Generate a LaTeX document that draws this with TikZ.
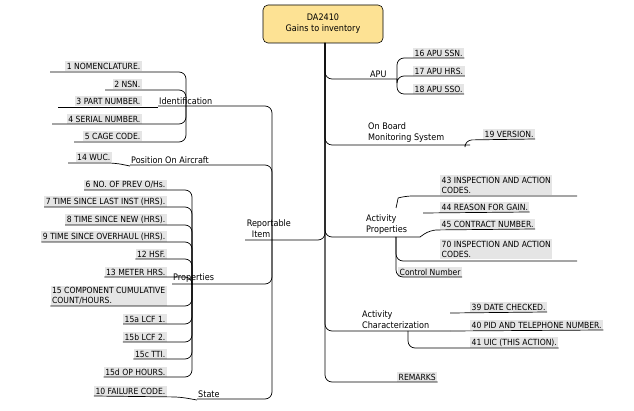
\documentclass[tikz,border=0pt]{standalone}
\usepackage{fontspec}
\setmainfont{DejaVu Sans Condensed}
\usetikzlibrary{positioning}
\tikzset{
  leaf/.style={fill=gray!20, inner sep=1.5pt, font=\fontsize{8.5}{10}\selectfont, align=left},
  hub/.style={inner sep=1pt, font=\fontsize{9}{11}\selectfont, align=left},
  conn/.style={draw, line width=0.7pt, rounded corners=7pt}
}
\begin{document}
\begin{tikzpicture}[x=1pt,y=-1pt]
      \useasboundingbox (0,0) rectangle (634,411);
      % root
      \node [draw, fill=yellow!50!orange!40, rounded corners=5pt, minimum width=120, minimum height=38,
        font=\fontsize{9}{11}\selectfont, align=center, line width=0.6pt] (root) at (323,24)
        {DA2410\\Gains to inventory};
      \coordinate (trunk) at (325,43);

      % right hubs
      \node [hub, anchor=south west] (apu) at (369,79) {APU};
      \node [hub, anchor=south west] (obm) at (367,144) {On Board\\Monitoring System};
      \node [hub, anchor=south west] (actp) at (365,236) {Activity\\Properties};
      \node [hub, anchor=south west] (actc) at (361,330) {Activity\\Characterization};
      \node [leaf, anchor=south west] (rem) at (397,382) {REMARKS};
      \draw [conn] (397,79) -| (trunk);
      \draw [conn] (470,145) -| (trunk);
      \draw [conn] (420,237) -| (trunk);
      \draw [conn] (450,331) -| (trunk);
      \draw [conn] (rem.south east) -| (trunk);

      % APU
      \node [leaf, anchor=south west] (a16) at (413,58) {16 APU SSN.};
      \node [leaf, anchor=south west] (a17) at (413,76) {17 APU HRS.};
      \node [leaf, anchor=south west] (a18) at (413,94) {18 APU SSO.};
      \foreach \n in {a16,a17,a18}
        \draw [conn] (\n.south east) -| (397,79);

      % on board
      \node [leaf, anchor=south west] (v19) at (483,139) {19 VERSION.};
      \draw [conn] (v19.south east) -- (465,140) -- (465,145);

      % activity properties
      \node [leaf, anchor=south west] (p43) at (440,195) {43 INSPECTION AND ACTION\\CODES.};
      \node [leaf, anchor=south west] (p44) at (440,212) {44 REASON FOR GAIN.};
      \node [leaf, anchor=south west] (p45) at (440,229) {45 CONTRACT NUMBER.};
      \node [leaf, anchor=south west] (p70) at (440,259) {70 INSPECTION AND ACTION\\CODES.};
      \node [leaf, anchor=south west] (pcn) at (398,277) {Control Number};
      \draw [conn] (577,196) -- (405,196) .. controls (398,198) and (397,204) .. (396,208);
      \draw [conn] (p44.south east) -- (423,213);
      \draw [conn] (p45.south east) -- (430,230) -- (420,237);
      \draw [conn] (577,261) -| (396,237);
      \draw [conn] (pcn.south east) -| (396,237);

      % activity characterization
      \node [leaf, anchor=south west] (c39) at (470,312) {39 DATE CHECKED.};
      \node [leaf, anchor=south west] (c40) at (470,330) {40 PID AND TELEPHONE NUMBER.};
      \node [leaf, anchor=south west] (c41) at (470,348) {41 UIC (THIS ACTION).};
      \draw [conn] (c39.south east) -- (450,313);
      \draw [conn] (c40.south east) -- (450,331);
      \draw [conn] (c41.south east) -| (408,331);

      % reportable item
      \node [hub, anchor=south west] (rep) at (243,239) {\ Reportable\\ \ \ \ Item};
      \draw [conn] (245,240) -| (trunk);
      \coordinate (rhub) at (272,240);

      \node [hub, anchor=south west] (ident) at (158,106) {Identification};
      \node [hub, anchor=south west] (pos) at (130,165) {Position On Aircraft};
      \node [hub, anchor=south west] (props) at (172,284) {Properties};
      \node [hub, anchor=south west] (state) at (197,399) {State};
      \draw [conn] (ident.south west) -| (rhub);
      \draw [conn] (pos.south west) -| (rhub);
      \draw [conn] (props.south west) -| (rhub);
      \draw [conn] (state.south west) -| (rhub);

      % identification
      \node [leaf, anchor=south east] (i1) at (142,71) {1 NOMENCLATURE.};
      \node [leaf, anchor=south east] (i2) at (142,89) {2 NSN.};
      \node [leaf, anchor=south east] (i3) at (142,106) {3 PART NUMBER.};
      \node [leaf, anchor=south east] (i4) at (142,124) {4 SERIAL NUMBER.};
      \node [leaf, anchor=south east] (i5) at (142,141) {5 CAGE CODE.};
      \draw [conn] (50,72) -| (186,107);
      \draw [conn] (105,90) -| (186,107);
      \draw [conn] (58,107) -- (158,107);
      \draw [conn] (52,124) -| (186,107);
      \draw [conn] (74,142) -| (186,107);

      % position
      \node [leaf, anchor=south east] (w14) at (112,162) {14 WUC.};
      \draw [conn] (68,163) -- (115,163) -- (130,166);

      % properties
      \foreach \n/\y/\t in {q6/190/{6 NO. OF PREV O/Hs.}, q7/207/7 TIME SINCE LAST INST (HRS).,
          q8/225/8 TIME SINCE NEW (HRS)., q9/242/9 TIME SINCE OVERHAUL (HRS).,
          q12/259/12 HSF., q13/277/13 METER HRS., q15/306/{15 COMPONENT CUMULATIVE\\COUNT/HOURS.},
          q15a/324/15a LCF 1., q15b/342/15b LCF 2., q15c/359/15c TTI., q15d/377/15d OP HOURS.}
      {
        \node [leaf, anchor=south east] (\n) at (167,\y) {\t};
        \draw [conn] (\n.south west) -| (192,285);
      }

      % state
      \node [leaf, anchor=south east] (f10) at (167,396) {10 FAILURE CODE.};
      \draw [conn] (f10.south west) -- (180,397) -- (197,400);
\end{tikzpicture}
\end{document}
